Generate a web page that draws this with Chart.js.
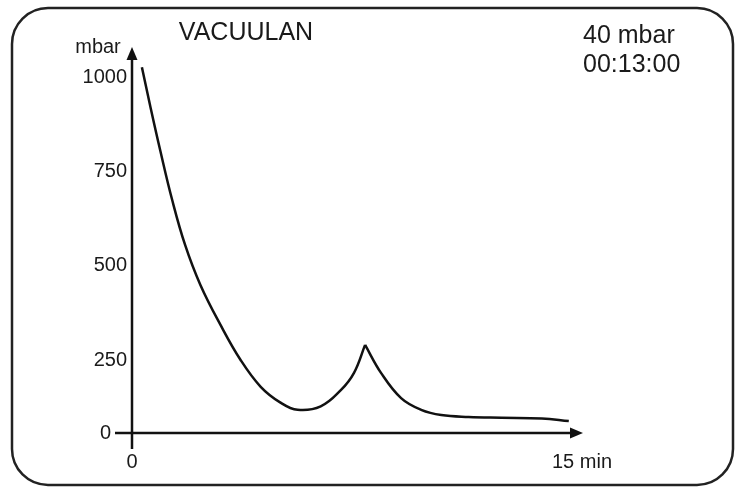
<!DOCTYPE html>
<html>
<head>
<meta charset="utf-8">
<script src="https://cdn.jsdelivr.net/npm/chart.js@4"></script>
<style>
  html, body { margin: 0; padding: 0; background: #fff; }
  canvas { display: block; }
</style>
</head>
<body>
<canvas id="vacuumChart" width="742" height="487"></canvas>
<script>
// pump-down down to the minimum and the pressure spike (minutes / mbar)
const pumpDownTime = [0.33, 0.60, 0.94, 1.34, 1.77, 2.28, 2.95, 3.62, 4.29, 4.95, 5.52, 6.29, 6.96, 7.40, 7.77];
const pumpDownPressure = [1026, 926, 806, 674, 555, 449, 343, 250, 179, 137, 118, 127, 170, 216, 290];

// recovery after the spike
const recoveryTime = [7.77, 8.30, 8.97, 9.64, 10.31, 11.22, 12.32, 13.66, 14.56];
const recoveryPressure = [290, 216, 149, 118, 104, 99, 97, 95, 88];

const xTickValues = [0, 15];
const xTickLabels = ['0', '15 min'];
const yTickValues = [0, 250, 500, 750, 1000];
const yTickLabels = ['0', '250', '500', '750', '1000'];

const deviceName = 'VACUULAN';
const readoutPressure = '40 mbar';
const readoutTime = '00:13:00';
const yUnit = 'mbar';

const FONT = "'Liberation Sans', Arial, sans-serif";
const INK = '#111';
const TEXT = '#1a1a1a';

// the sketch puts the "0" label on the axis crossing, a bit short of a full step below 250
const yMin = 56.5;
const yMax = 1077;

function toPoints(xs, ys) {
    return xs.map((x, i) => ({ x: x, y: ys[i] }));
}

const framePlugin = {
    id: 'frame',
    beforeDraw(chart) {
        const ctx = chart.ctx;
        ctx.save();
        ctx.fillStyle = '#fff';
        ctx.fillRect(0, 0, chart.width, chart.height);
        ctx.beginPath();
        ctx.roundRect(12, 8, 721, 477, 36);
        ctx.lineWidth = 2.5;
        ctx.strokeStyle = '#222';
        ctx.stroke();
        ctx.restore();
    },
    afterDraw(chart) {
        const ctx = chart.ctx;
        const a = chart.chartArea;
        ctx.save();
        ctx.strokeStyle = INK;
        ctx.fillStyle = INK;
        ctx.lineWidth = 2.5;

        // y axis with arrow
        ctx.beginPath();
        ctx.moveTo(a.left, a.bottom + 16);
        ctx.lineTo(a.left, a.top + 10);
        ctx.stroke();
        ctx.beginPath();
        ctx.moveTo(a.left, a.top - 1);
        ctx.lineTo(a.left - 5.5, a.top + 12);
        ctx.lineTo(a.left + 5.5, a.top + 12);
        ctx.closePath();
        ctx.fill();

        // x axis with arrow, it starts a little left of the y axis
        ctx.beginPath();
        ctx.moveTo(a.left - 17, a.bottom);
        ctx.lineTo(a.right - 10, a.bottom);
        ctx.stroke();
        ctx.beginPath();
        ctx.moveTo(a.right + 1, a.bottom);
        ctx.lineTo(a.right - 12, a.bottom - 5.5);
        ctx.lineTo(a.right - 12, a.bottom + 5.5);
        ctx.closePath();
        ctx.fill();

        // texts
        ctx.fillStyle = TEXT;
        ctx.textBaseline = 'middle';
        ctx.font = '25px ' + FONT;
        ctx.textAlign = 'center';
        ctx.fillText(deviceName, 246, 33);
        ctx.textAlign = 'left';
        ctx.fillText(readoutPressure, 583, 36);
        ctx.fillText(readoutTime, 583, 65);
        ctx.font = '20px ' + FONT;
        ctx.textAlign = 'center';
        ctx.fillText(yUnit, 98, 47);

        // origin label of the y axis sits at the end of the x axis stub
        ctx.textAlign = 'right';
        ctx.fillText(yTickLabels[0], a.left - 21, a.bottom);
        ctx.restore();
    }
};

const lineStyle = {
    borderColor: INK,
    borderWidth: 2.5,
    pointRadius: 0,
    fill: false,
    tension: 0.4
};

new Chart(document.getElementById('vacuumChart'), {
    type: 'line',
    data: {
        datasets: [
            Object.assign({ label: 'pump down', data: toPoints(pumpDownTime, pumpDownPressure) }, lineStyle),
            Object.assign({ label: 'recovery', data: toPoints(recoveryTime, recoveryPressure) }, lineStyle)
        ]
    },
    options: {
        responsive: false,
        animation: false,
        layout: {
            padding: { left: 32, right: 160, top: 48, bottom: 10 }
        },
        plugins: {
            legend: { display: false },
            tooltip: { enabled: false }
        },
        scales: {
            x: {
                type: 'linear',
                min: xTickValues[0],
                max: xTickValues[xTickValues.length - 1],
                grid: { display: false, drawTicks: false, tickLength: 0 },
                border: { display: false },
                afterFit(scale) { scale.height = 44; },
                afterBuildTicks(scale) {
                    scale.ticks = xTickValues.map(v => ({ value: v }));
                },
                ticks: {
                    padding: 17,
                    color: TEXT,
                    font: { family: FONT, size: 20 },
                    maxRotation: 0,
                    callback: (value, index) => xTickLabels[index]
                }
            },
            y: {
                type: 'linear',
                min: yMin,
                max: yMax,
                grid: { display: false, drawTicks: false, tickLength: 0 },
                border: { display: false },
                afterFit(scale) { scale.width = 100; },
                afterBuildTicks(scale) {
                    scale.ticks = yTickValues.map(v => ({ value: Math.max(v, yMin) }));
                },
                ticks: {
                    padding: 5,
                    color: TEXT,
                    font: { family: FONT, size: 20 },
                    // index 0 is drawn by the frame plugin, left of the axis stub
                    callback: (value, index) => (index === 0 ? '' : yTickLabels[index])
                }
            }
        }
    },
    plugins: [framePlugin]
});
</script>
</body>
</html>
